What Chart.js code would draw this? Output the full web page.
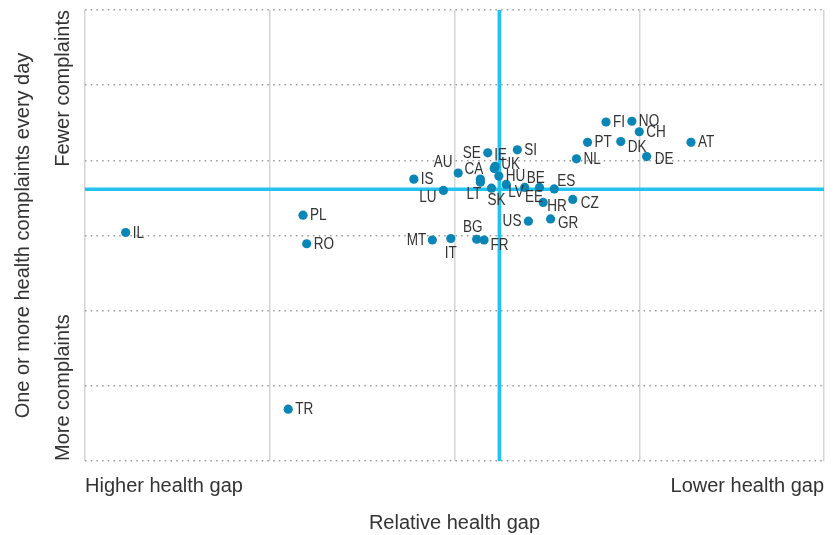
<!DOCTYPE html>
<html>
<head>
<meta charset="utf-8">
<script src="https://cdn.jsdelivr.net/npm/chart.js@4"></script>
<style>
  html, body { margin: 0; padding: 0; background: #fff; }
  #wrap { width: 837px; height: 535px; position: relative; }
</style>
</head>
<body>
<div id="wrap"><canvas id="gapChart"></canvas></div>
<script>
// country codes and their positions (relative health gap, daily complaints)
const COUNTRIES = ["FI", "NO", "CH", "PT", "DK", "AT", "SE", "SI", "NL", "DE",
  "AU", "CA", "LT", "IS", "LU", "SK", "IE", "UK", "HU", "LV",
  "BE", "EE", "ES", "HR", "CZ", "US", "GR", "MT", "IT", "BG",
  "FR", "IL", "PL", "RO", "TR"];
const HEALTH_GAP = [2.82, 2.96, 3.00, 2.72, 2.90, 3.28, 2.18, 2.34, 2.66, 3.04,
  2.02, 2.14, 2.14, 1.78, 1.94, 2.20, 2.22, 2.215, 2.24, 2.28,
  2.38, 2.46, 2.54, 2.48, 2.64, 2.40, 2.52, 1.88, 1.98, 2.12,
  2.16, 0.22, 1.18, 1.20, 1.10];
const COMPLAINTS = [4.51, 4.52, 4.38, 4.24, 4.25, 4.24, 4.10, 4.14, 4.02, 4.05,
  3.83, 3.75, 3.71, 3.75, 3.60, 3.63, 3.92, 3.89, 3.79, 3.68,
  3.64, 3.64, 3.62, 3.44, 3.48, 3.19, 3.22, 2.94, 2.96, 2.95,
  2.94, 3.04, 3.27, 2.89, 0.69];

// average lines
const AVG_GAP = 2.243;
const AVG_COMPLAINTS = 3.615;

// axis range and end labels
const X_MAX = 4;
const Y_MAX = 6;
const X_END_LABELS = ["Higher health gap", "Lower health gap"];
const Y_END_LABELS = ["More complaints", "Fewer complaints"];

const COLORS = {
  dot: "#0a86b6",
  avg: "#22c3f0",
  text: "#333333",
  grid: "#d4d4d4",
  dotted: "#9a9a9a",
};

const AXIS_FONT = "'Liberation Sans', Arial, sans-serif";

// label placement next to each dot: [dx, dy, align]
const LABEL_PLACE = {
  IE: [5.5, -11.5, "center"],
  UK: [7, -5, "left"],
  LU: [-15.5, 7, "center"],
  SE: [-7, 0, "right"],
  LV: [2, 8, "left"],
  BE: [2, -9, "left"],
  EE: [-5.5, 10, "center"],
  ES: [3, -8, "left"],
  HR: [4, 4, "left"],
  CZ: [8, 4, "left"],
  GR: [7.5, 4, "left"],
  US: [-7, 0, "right"],
  SK: [5, 12, "center"],
  LT: [-6.5, 12, "center"],
  CA: [-6.5, -10, "center"],
  AU: [-15, -11, "center"],
  MT: [-6, 0, "right"],
  IT: [0, 14.5, "center"],
  BG: [-4, -12.5, "center"],
  FR: [6.5, 5, "left"],
  DK: [7, 5, "left"],
  DE: [8, 2.5, "left"],
};
const DEFAULT_PLACE = [7, 0, "left"];
const LABEL_SQUEEZE = 0.82; // condensed look of the point labels

/** 在散点旁写国家代码 */
const pointLabels = {
  id: "pointLabels",
  afterDatasetsDraw(chart) {
    const { ctx } = chart;
    const meta = chart.getDatasetMeta(0);
    ctx.save();
    ctx.font = `16.5px ${AXIS_FONT}`;
    ctx.fillStyle = COLORS.text;
    ctx.textBaseline = "middle";
    meta.data.forEach((pt, i) => {
      const code = COUNTRIES[i];
      const [dx, dy, align] = LABEL_PLACE[code] || DEFAULT_PLACE;
      ctx.save();
      ctx.translate(pt.x + dx, pt.y + dy + 0.5);
      ctx.scale(LABEL_SQUEEZE, 1);
      ctx.textAlign = align;
      ctx.fillText(code, 0, 0);
      ctx.restore();
    });
    ctx.restore();
  },
};

/** 纵轴两端的旋转说明文字 */
const yEndLabels = {
  id: "yEndLabels",
  afterDraw(chart) {
    const { ctx, chartArea } = chart;
    ctx.save();
    ctx.font = `20px ${AXIS_FONT}`;
    ctx.fillStyle = COLORS.text;
    ctx.textBaseline = "middle";
    const x = chartArea.left - 22;
    ctx.translate(x, chartArea.bottom);
    ctx.rotate(-Math.PI / 2);
    ctx.textAlign = "left";
    ctx.fillText(Y_END_LABELS[0], 0, 0);
    ctx.textAlign = "right";
    ctx.fillText(Y_END_LABELS[1], chartArea.bottom - chartArea.top, 0);
    ctx.restore();
  },
};

const points = COUNTRIES.map((c, i) => ({ x: HEALTH_GAP[i], y: COMPLAINTS[i] }));

new Chart(document.getElementById("gapChart"), {
  type: "scatter",
  data: {
    datasets: [
      {
        label: "Countries",
        data: points,
        backgroundColor: COLORS.dot,
        borderWidth: 0,
        pointRadius: 4.6,
      },
      {
        type: "line",
        label: "avg gap",
        data: [{ x: AVG_GAP, y: 0 }, { x: AVG_GAP, y: Y_MAX }],
        borderColor: COLORS.avg,
        borderWidth: 3.6,
        pointRadius: 0,
      },
      {
        type: "line",
        label: "avg complaints",
        data: [{ x: 0, y: AVG_COMPLAINTS }, { x: X_MAX, y: AVG_COMPLAINTS }],
        borderColor: COLORS.avg,
        borderWidth: 3.6,
        pointRadius: 0,
      },
    ],
  },
  options: {
    responsive: true,
    maintainAspectRatio: false,
    animation: false,
    layout: { padding: { left: 5, right: 10, top: 10, bottom: 0 } },
    plugins: {
      legend: { display: false },
      tooltip: { enabled: false },
    },
    scales: {
      x: {
        type: "linear",
        min: 0,
        max: X_MAX,
        grid: { color: COLORS.grid, lineWidth: 1.5, drawTicks: false },
        border: { display: false },
        ticks: {
          stepSize: 1,
          align: "inner",
          padding: 13,
          color: COLORS.text,
          font: { family: AXIS_FONT, size: 20 },
          maxRotation: 0,
          autoSkip: false,
          callback: (v) => (v === 0 ? X_END_LABELS[0] : v === X_MAX ? X_END_LABELS[1] : ""),
        },
        title: {
          display: true,
          text: "Relative health gap",
          color: COLORS.text,
          font: { family: AXIS_FONT, size: 20 },
          padding: { top: 0, bottom: 0 },
        },
      },
      y: {
        type: "linear",
        min: 0,
        max: Y_MAX,
        grid: { color: COLORS.dotted, lineWidth: 1.5, drawTicks: false },
        border: { display: false, dash: [1.5, 4.2] },
        ticks: { stepSize: 1, display: false },
        title: {
          display: true,
          text: "One or more health complaints every day",
          color: COLORS.text,
          font: { family: AXIS_FONT, size: 20 },
          padding: { top: 6, bottom: 50 },
        },
      },
    },
  },
  plugins: [pointLabels, yEndLabels],
});
</script>
</body>
</html>
